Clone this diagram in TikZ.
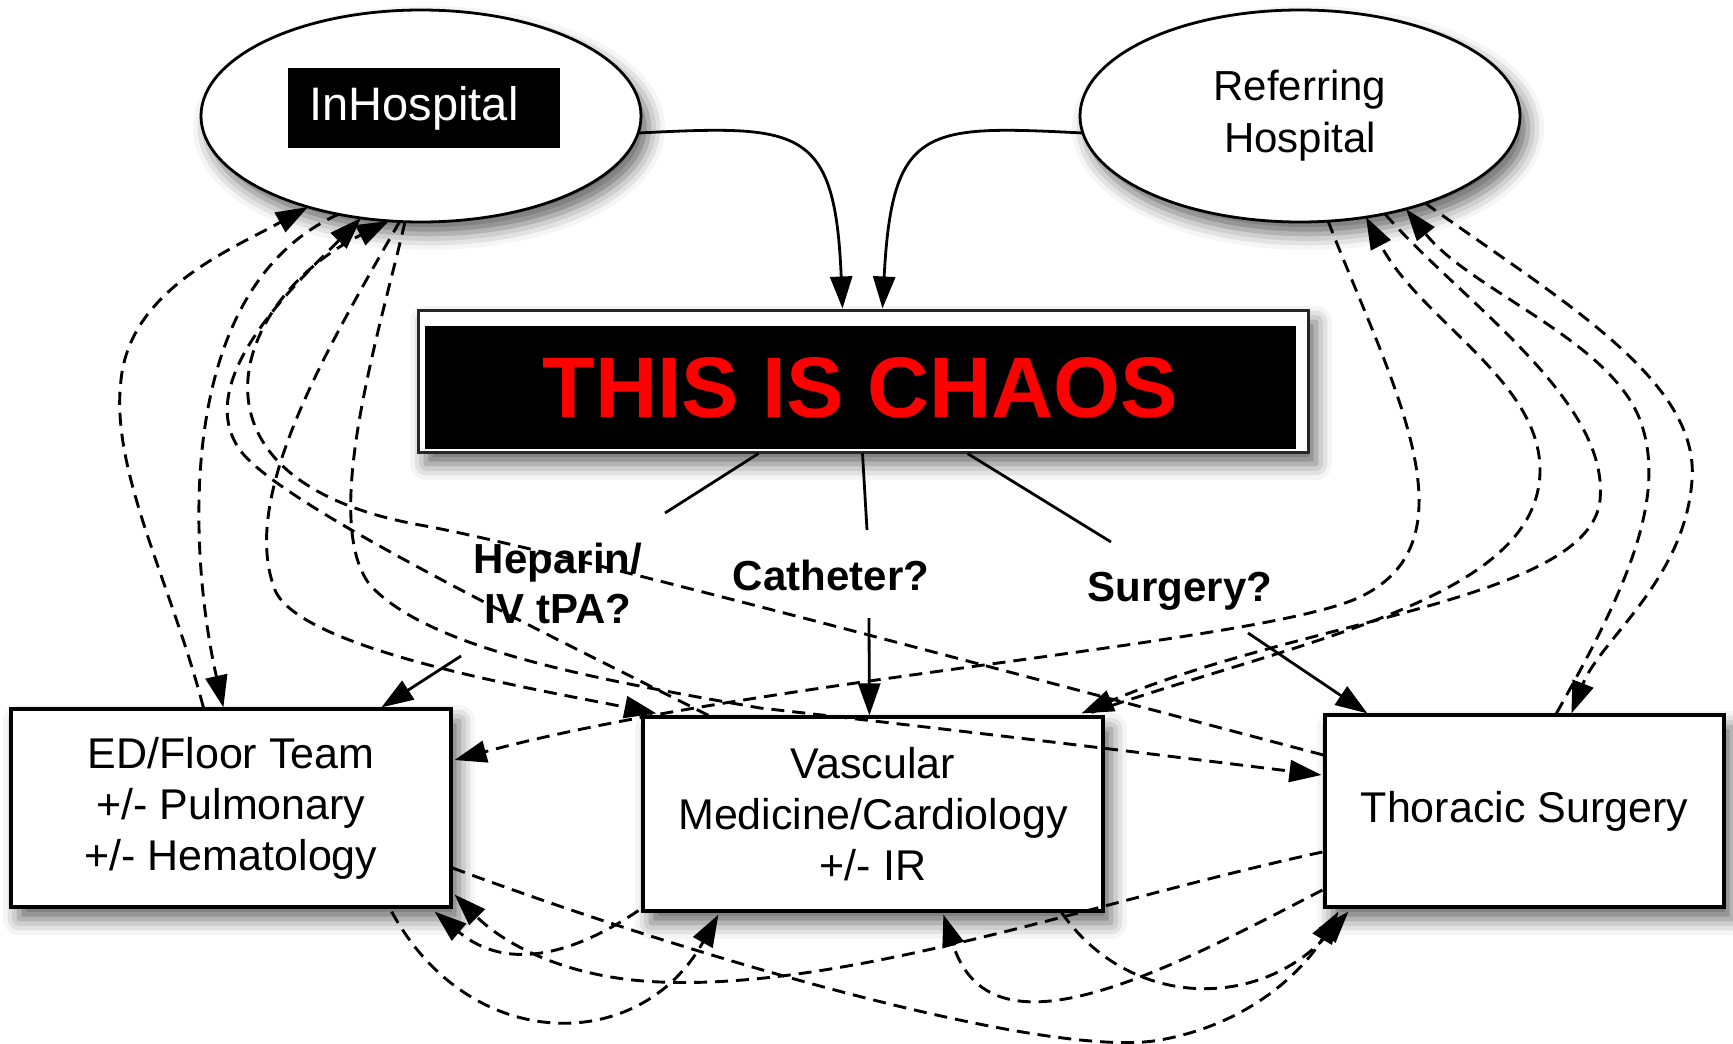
\documentclass[tikz,border=0pt]{standalone}
\usepackage{fontspec}
\setmainfont{Liberation Sans}
\usetikzlibrary{arrows.meta,shapes.geometric,calc,shadows.blur}

\begin{document}
\begin{tikzpicture}[x=1pt,y=-1pt,
  every node/.style={inner sep=0pt},
  nshadow/.style={blur shadow={shadow xshift=8pt,shadow yshift=-12pt,shadow blur radius=16pt,shadow opacity=60}},
  boxnode/.style={draw=black,line width=3.2pt,fill=white,nshadow,align=center,font=\fontsize{43}{51}\selectfont},
  ellnode/.style={ellipse,draw=black,line width=2.8pt,fill=white,nshadow,minimum width=440pt,minimum height=212pt},
  dedge/.style={line width=2.9pt,dash pattern=on 13pt off 8pt,-{Triangle[length=32pt,width=22pt]}},
  sedge/.style={line width=2.8pt,-{Triangle[length=32pt,width=22pt]}},
  sline/.style={line width=2.8pt},
  lab/.style={font=\bfseries\fontsize{42}{50}\selectfont,align=center}
]
\useasboundingbox (0,0) rectangle (1733,1044);

% ---------- nodes ----------
\node[ellnode] (ih) at (421,116) {};
\node[fill=black,minimum width=272pt,minimum height=80pt,text=white,font=\fontsize{47}{50}\selectfont] (ihlabel) at (424,108) {\hspace*{-20pt}InHospital};
\node[ellnode,align=center,font=\fontsize{42}{52}\selectfont] (rh) at (1300,116) {Referring\\Hospital};

\node[draw=black!85,line width=3pt,fill=white,minimum width=890pt,minimum height=142pt,nshadow] (chaos) at (863,381) {};
\node[fill=black,minimum width=871pt,minimum height=123pt,text=red,font=\bfseries\fontsize{86}{86}\selectfont] (chaosin) at (860.5,387.5) {THIS IS CHAOS};

\node[boxnode,minimum width=440pt,minimum height=198pt] (ed) at (231,808) {ED/Floor Team\\+/- Pulmonary\\+/- Hematology};
\node[boxnode,minimum width=460pt,minimum height=194pt] (vasc) at (873,814) {Vascular\\Medicine/Cardiology\\+/- IR};
\node[boxnode,minimum width=399pt,minimum height=192pt] (thor) at (1524.5,811) {Thoracic Surgery};

\node[lab] (hep) at (558,583) {Heparin/\\IV tPA?};
\node[lab] (cath) at (831,575) {Catheter?};
\node[lab] (surg) at (1180,591) {Surgery?};

\coordinate (hepin) at (665,513);
\coordinate (hepout) at (461,656);
\coordinate (cathin) at (867,530);
\coordinate (cathout) at (869,618);
\coordinate (surgin) at (1111,542);
\coordinate (surgout) at (1248,633);

% ---------- solid connectors ----------
\draw[sedge] ($(ih.center)+(217,17)$) .. controls (800,125) and (835,125) .. ($(chaos.north west)+(426,0)$);
\draw[sedge] ($(rh.center)+(-217,17)$) .. controls (925,125) and (892,125) .. ($(chaos.north west)+(466,0)$);

\draw[sline] ($(chaos.south west)+(342,0)$) -- (hepin);
\draw[sedge] (hepout) -- ($(ed.north west)+(372,0)$);
\draw[sline] ($(chaos.south west)+(446,0)$) -- (cathin);
\draw[sedge] (cathout) -- ($(vasc.north west)+(228,0)$);
\draw[sline] ($(chaos.south west)+(551,0)$) -- (surgin);
\draw[sedge] (surgout) -- ($(thor.north west)+(44,0)$);

% ---------- dashed connectors: InHospital ----------
\draw[dedge] ($(ed.north west)+(194,0)$) .. controls (170,580) and (110,470) .. (121,380) .. controls (130,290) and (230,250) .. ($(ih.center)+(-113,91)$);
\draw[dedge] ($(ih.center)+(-82,98)$) .. controls (170,290) and (190,560) .. ($(ed.north west)+(214,0)$);
\draw[dedge] ($(vasc.north west)+(67,0)$) .. controls (560,640) and (280,506) .. (240,450) .. controls (190,380) and (300,280) .. ($(ih.center)+(-60,102)$);
\draw[dedge] ($(thor.west)+(0,-56)$) .. controls (1000,670) and (545,547) .. (420,525) .. controls (170,480) and (230,300) .. ($(ih.center)+(-32,105)$);
\draw[dedge] ($(ih.center)+(-21,105)$) .. controls (320,360) and (240,500) .. (275,590) .. controls (300,650) and (540,690) .. ($(vasc.north west)+(15,-2)$);
\draw[dedge] ($(ih.center)+(-16,106)$) .. controls (380,330) and (320,520) .. (370,585) .. controls (430,650) and (600,680) .. (760,708) .. controls (1000,735) and (1200,760) .. ($(thor.west)+(-2,-36)$);

% ---------- dashed connectors: Referring Hospital ----------
\draw[dedge] ($(rh.center)+(28,105)$) .. controls (1390,380) and (1480,540) .. (1360,597) .. controls (1264,643) and (750,680) .. ($(ed.east)+(2,-48)$);
\draw[dedge] ($(vasc.north east)+(-13,-3)$) .. controls (1300,640) and (1540,600) .. (1540,470) .. controls (1540,380) and (1420,320) .. ($(rh.center)+(66,101)$);
\draw[dedge] ($(rh.center)+(85,98)$) .. controls (1460,300) and (1610,400) .. (1600,500) .. controls (1590,600) and (1300,620) .. ($(vasc.north east)+(-23,-2)$);
\draw[dedge] ($(thor.north west)+(233,0)$) .. controls (1620,600) and (1670,500) .. (1640,420) .. controls (1610,340) and (1470,290) .. ($(rh.center)+(106,93)$);
\draw[dedge] ($(rh.center)+(125,87)$) .. controls (1560,300) and (1700,380) .. (1692,480) .. controls (1685,580) and (1600,640) .. ($(thor.north west)+(248,0)$);

% ---------- dashed connectors: bottom ----------
\draw[dedge] ($(ed.south east)+(-61,3)$) .. controls (470,1055) and (640,1055) .. ($(vasc.south west)+(77,2)$);
\draw[dedge] ($(vasc.south west)+(-3,-2)$) .. controls (580,950) and (510,975) .. ($(ed.south east)+(-18,3)$);
\draw[dedge] ($(thor.west)+(-1,41)$) .. controls (1100,900) and (850,990) .. (660,982) .. controls (560,978) and (500,940) .. ($(ed.south east)+(2,-14)$);
\draw[dedge] ($(ed.east)+(0,60)$) .. controls (700,960) and (1050,1060) .. (1160,1040) .. controls (1260,1022) and (1310,960) .. ($(thor.south west)+(15,3)$);
\draw[dedge] ($(thor.west)+(-1,79)$) .. controls (1150,980) and (990,1060) .. ($(vasc.south west)+(302,2)$);
\draw[dedge] ($(vasc.south east)+(-43,0)$) .. controls (1130,1010) and (1260,1010) .. ($(thor.south west)+(25,3)$);
\end{tikzpicture}
\end{document}
